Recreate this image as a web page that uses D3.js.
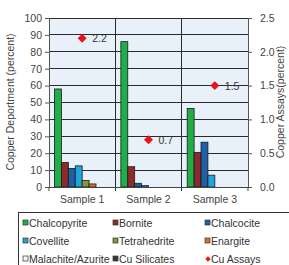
<!DOCTYPE html>
<html>
<head>
<meta charset="utf-8">
<script src="https://cdn.jsdelivr.net/npm/d3@7"></script>
<style>
body { margin:0; background:#fff; }
svg text { font-family: Arial, "Liberation Sans", sans-serif; }
</style>
</head>
<body>
<script>
// chart values
var samples = ["Sample 1", "Sample 2", "Sample 3"]
var minerals = ["Chalcopyrite", "Bornite", "Chalcocite", "Covellite", "Tetrahedrite", "Enargite", "Malachite/Azurite", "Cu Silicates"]
var mineralColors = ["#1fae4a", "#8c2a2c", "#1e5fa6", "#1ea6de", "#7e9a3c", "#e0741e", "#fbf2f4", "#3a3a3a"]
var deportment = [
	[58, 14.5, 11, 12.5, 3.8, 1.8, 0, 0],
	[86, 12, 2.2, 0.8, 0, 0, 0, 0],
	[46.5, 20.5, 26.5, 7, 0, 0, 0, 0]
]
var assays = [2.2, 0.7, 1.5]
var leftTicks = [0, 10, 20, 30, 40, 50, 60, 70, 80, 90, 100]
var rightTicks = [0, 0.5, 1.0, 1.5, 2.0, 2.5]

var W = 289, H = 265
var svg = d3.select("body").append("svg").attr("width", W).attr("height", H)

var x = d3.scaleBand().domain(samples).range([49, 248])
var xb = d3.scaleBand().domain(minerals).range([0, x.bandwidth()]).paddingOuter(0.8)
var y = d3.scaleLinear().domain([0, 100]).range([187, 18])
var y2 = d3.scaleLinear().domain([0, 2.5]).range([187, 18])

// plot background
svg.append("rect").attr("x", 49).attr("y", 18).attr("width", 199).attr("height", 169).attr("fill", "#e8f1f9")

// gridlines
svg.selectAll(".grid").data(leftTicks.slice(1)).enter().append("line")
	.attr("x1", 49).attr("x2", 248)
	.attr("y1", function(d){return y(d)}).attr("y2", function(d){return y(d)})
	.attr("stroke", "#2a2a2a").attr("stroke-width", 1).attr("shape-rendering", "crispEdges")

// category separators
svg.selectAll(".sep").data(samples.slice(1)).enter().append("line")
	.attr("x1", function(d){return x(d)}).attr("x2", function(d){return x(d)})
	.attr("y1", 18).attr("y2", 191)
	.attr("stroke", "#2a2a2a").attr("shape-rendering", "crispEdges")

// bars
var groups = svg.selectAll(".grp").data(deportment).enter().append("g")
	.attr("transform", function(d, i){return "translate(" + x(samples[i]) + ",0)"})
groups.selectAll("rect").data(function(d){return d}).enter().append("rect")
	.attr("x", function(d, i){return xb(minerals[i])})
	.attr("width", xb.bandwidth())
	.attr("y", function(d){return y(d)})
	.attr("height", function(d){return y(0) - y(d)})
	.attr("fill", function(d, i){return mineralColors[i]})
	.attr("stroke", function(d){return d > 0 ? "#1a1a1a" : "none"})
	.attr("stroke-width", 0.8)

// axes
var yAxis = d3.axisLeft(y).tickValues(leftTicks).tickSize(4).tickPadding(3)
var gy = svg.append("g").attr("transform", "translate(49,0)").call(yAxis)
var y2Axis = d3.axisRight(y2).tickValues(rightTicks).tickSize(4).tickPadding(8).tickFormat(d3.format(".1f"))
var gy2 = svg.append("g").attr("transform", "translate(248,0)").call(y2Axis)
var xAxis = d3.axisBottom(x).tickSize(0).tickPadding(9)
var gx = svg.append("g").attr("transform", "translate(0,187)").call(xAxis)
;[gy, gy2, gx].forEach(function(g){
	g.select(".domain").attr("stroke", "#555")
	g.selectAll(".tick line").attr("stroke", "#555")
	g.selectAll("text").attr("fill", "#444").style("font-size", "10.5px")
})
gx.select(".domain").attr("stroke", "#444")
// x boundary ticks
svg.selectAll(".xt").data([49, 248]).enter().append("line")
	.attr("x1", function(d){return d}).attr("x2", function(d){return d})
	.attr("y1", 187).attr("y2", 191).attr("stroke", "#444")

// axis titles
svg.append("text").attr("transform", "translate(14,102) rotate(-90)")
	.attr("text-anchor", "middle").style("font-size", "10.5px").attr("fill", "#444")
	.text("Copper Deportment (percent)")
svg.append("text").attr("transform", "translate(284,102) rotate(-90)")
	.attr("text-anchor", "middle").style("font-size", "10.5px").attr("fill", "#444")
	.text("Copper Assays(percent)")

// assay diamonds (rotated squares)
var diamond = d3.symbol().type(d3.symbolSquare).size(40)
svg.selectAll(".assay").data(assays).enter().append("path")
	.attr("d", diamond)
	.attr("transform", function(d, i){return "translate(" + (x(samples[i]) + x.bandwidth() / 2) + "," + y2(d) + ") rotate(45)"})
	.attr("fill", "#e8141c")
svg.selectAll(".alab").data(assays).enter().append("text")
	.attr("x", function(d, i){return x(samples[i]) + x.bandwidth() / 2 + 10})
	.attr("y", function(d){return y2(d) + 4})
	.style("font-size", "10.5px").attr("fill", "#333")
	.text(function(d){return d3.format(".1f")(d)})

// legend
var legend = svg.append("g")
legend.append("rect").attr("x", 18.5).attr("y", 212.5).attr("width", 280).attr("height", 60)
	.attr("fill", "#fff").attr("stroke", "#333")
var legendItems = minerals.concat(["Cu Assays"])
var colX = [23, 113, 205], rowY = [223, 241, 259]
var li = legend.selectAll(".li").data(legendItems).enter().append("g")
	.attr("transform", function(d, i){return "translate(" + colX[i % 3] + "," + rowY[Math.floor(i / 3)] + ")"})
li.each(function(d, i){
	var g = d3.select(this)
	if (i < 8) {
		g.append("rect").attr("x", 0).attr("y", -3).attr("width", 5).attr("height", 5)
			.attr("fill", mineralColors[i]).attr("stroke", "#333").attr("stroke-width", 0.7)
	} else {
		g.append("path").attr("d", d3.symbol().type(d3.symbolSquare).size(14))
			.attr("transform", "translate(3,0) rotate(45)").attr("fill", "#e8141c")
	}
	g.append("text").attr("x", 6).attr("y", 4).style("font-size", "10.5px").attr("fill", "#333").text(d)
})
</script>
</body>
</html>
